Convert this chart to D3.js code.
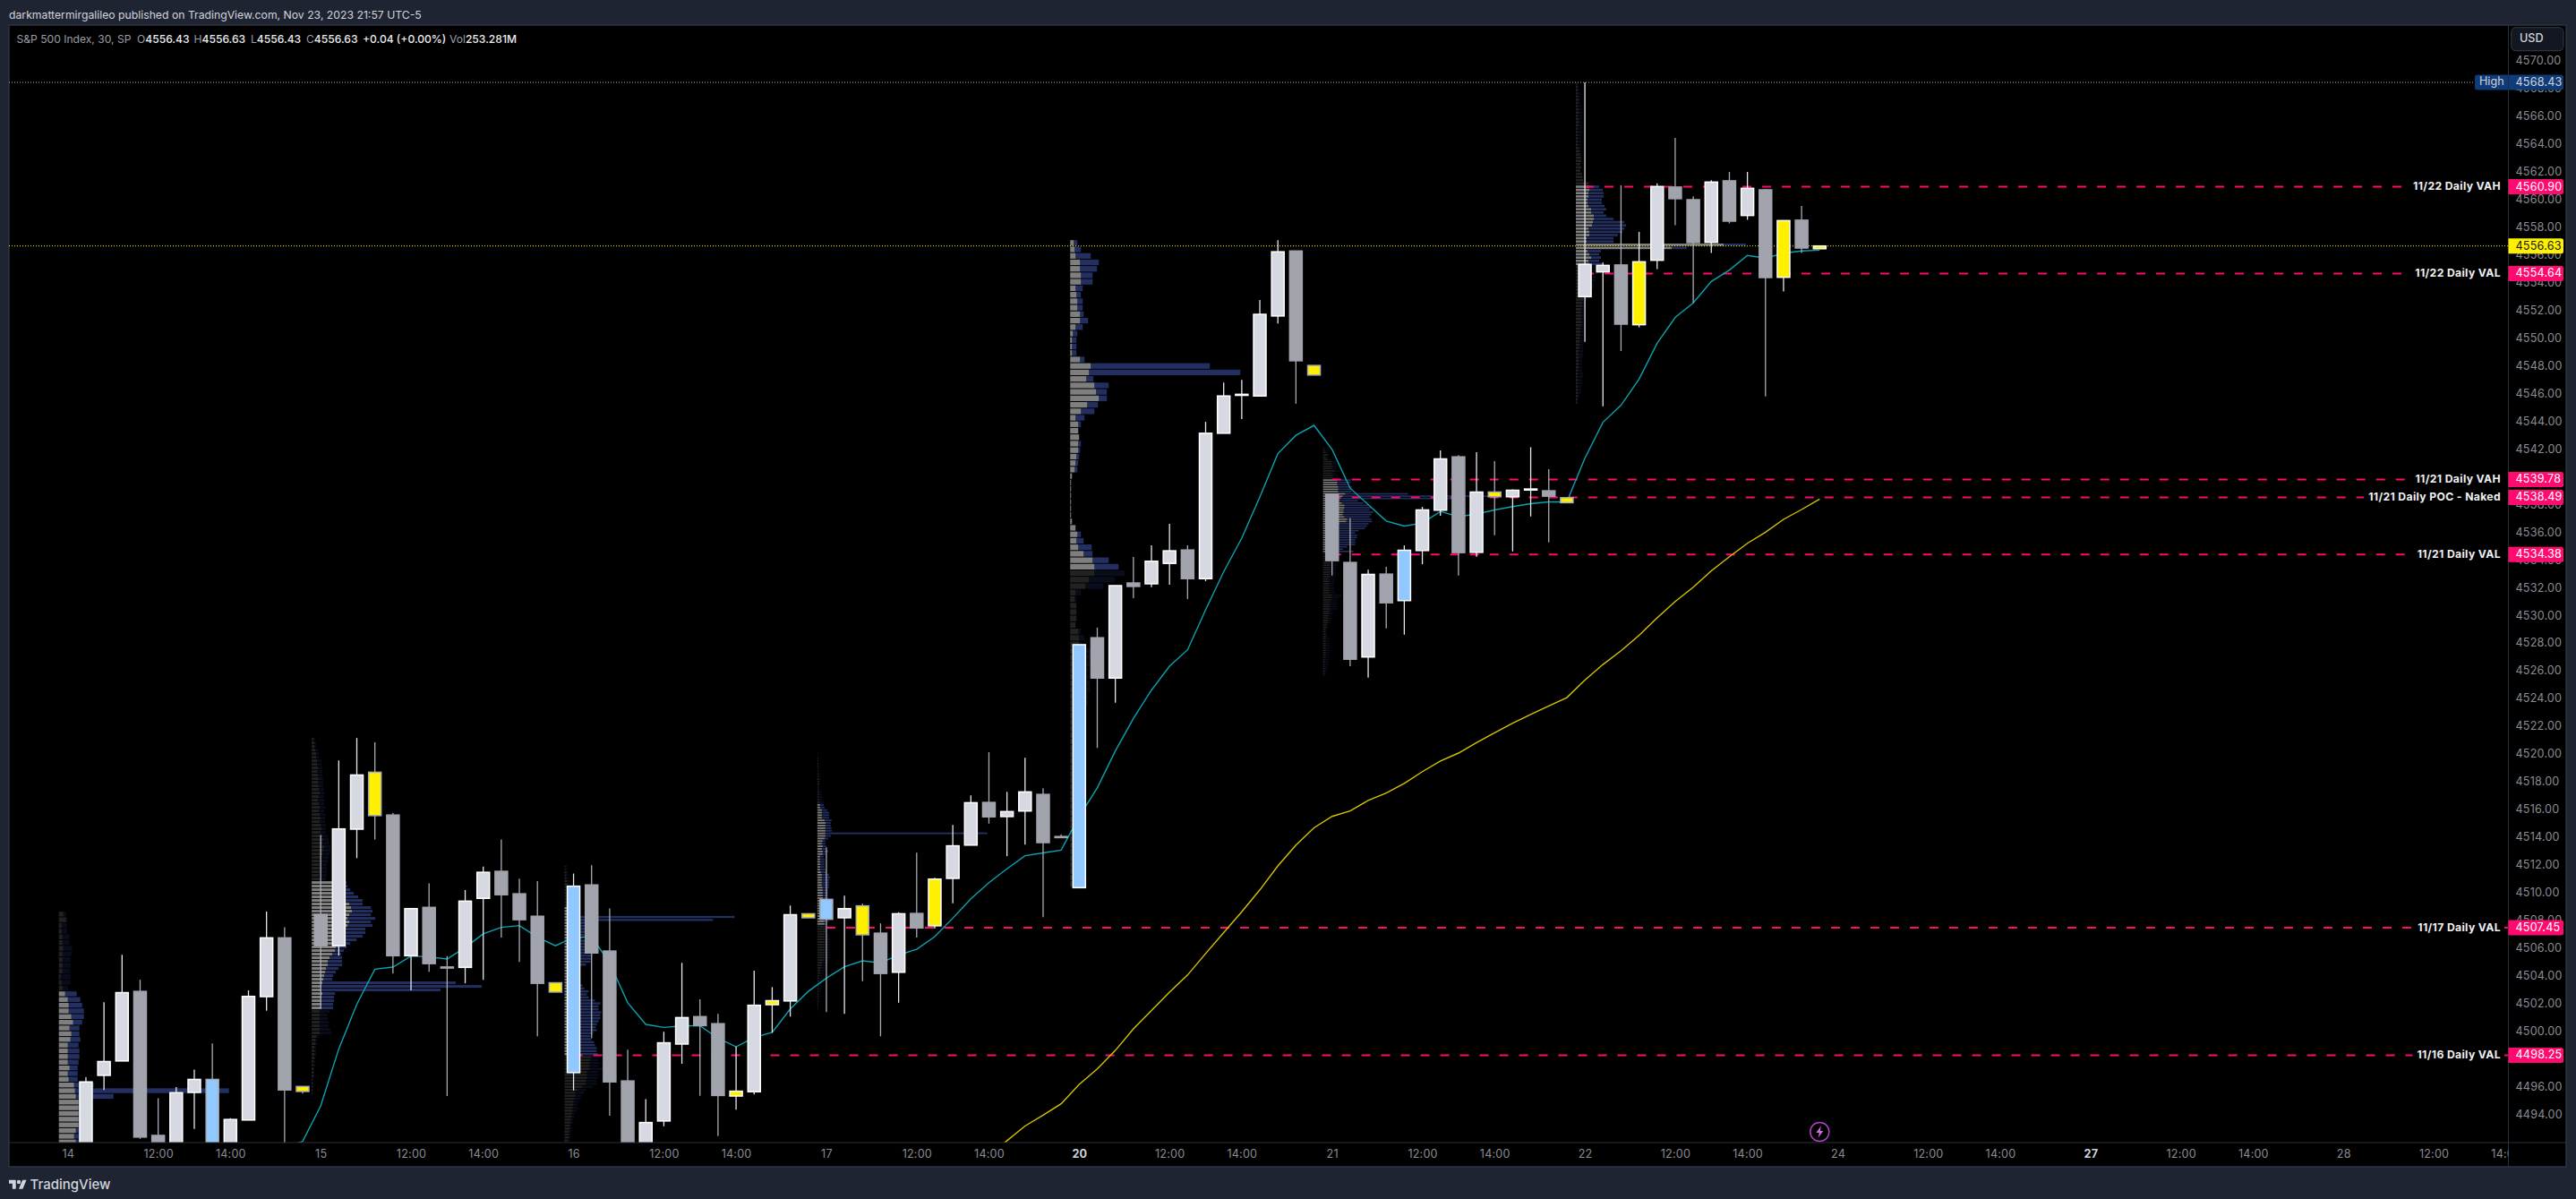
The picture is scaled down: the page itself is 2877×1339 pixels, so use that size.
<!DOCTYPE html>
<html><head><meta charset="utf-8">
<script src="https://cdn.jsdelivr.net/npm/d3@7"></script>
<style>html,body{margin:0;padding:0;background:#1f2433}svg{display:block}text{font-family:Inter,"Noto Sans",sans-serif}</style>
</head><body><svg id="c" width="2877" height="1339"></svg>
<script>
const opens=[4489,4489.4,4496.8,4497.84,4502.86,4492.47,4490,4495.57,4496.51,4490,4493.58,4502.48,4506.72,4496,
4508.41,4506.15,4514.56,4518.67,4515.58,4505.43,4508.92,4504.62,4504.59,4509.57,4511.52,4509.9,4508.28,4503.48,
4497,4510.54,4505.77,4496.4,4490,4493.51,4499.06,4501.04,4500.53,4495.31,4495.62,4501.9,4502.17,4508.46,
4509.5,4508.17,4509.03,4507.06,4504.24,4508.48,4507.59,4511.01,4513.41,4516.49,4515.47,4515.87,4517.07,4514.03,
4510.34,4528.37,4525.46,4532.32,4532.26,4533.73,4534.7,4532.63,4543.12,4545.88,4545.81,4551.58,4556.27,4548.01,
4538.73,4533.8,4526.98,4532.96,4531.05,4534.66,4537.57,4541.42,4534.53,4538.88,4538.54,4539.06,4538.97,4538.47,
4552.97,4554.76,4555.26,4550.95,4555.6,4560.88,4559.97,4556.89,4561.33,4558.83,4560.68,4554.37,4558.49,4556.43];
const highs=[4491,4496.66,4502.08,4505.5,4503.7,4495.15,4495.95,4497.22,4499.11,4493.71,4502.93,4508.61,4507.48,4496,
4514.14,4519.51,4521.14,4520.82,4515.72,4508.83,4510.65,4505.41,4510.17,4511.87,4513.81,4510.99,4510.81,4503.48,
4511.36,4511.96,4508.85,4498.66,4495.09,4499.95,4504.92,4502.28,4501.24,4498.88,4504.35,4503.17,4509.05,4508.46,
4513.25,4509.77,4509.19,4507.77,4508.57,4512.87,4511.05,4514.87,4517,4520.11,4517.25,4519.71,4517.52,4514.18,
4527.87,4529.1,4532.13,4534.2,4535.04,4536.58,4535.04,4543.94,4546.78,4546.97,4552.73,4557.05,4556.27,4548.01,
4538.73,4537.01,4533.28,4533.48,4535.03,4537.81,4541.88,4541.55,4541.75,4541.1,4539.08,4542.11,4540.52,4538.47,
4568.43,4555.43,4561.01,4557.65,4561.14,4564.43,4560.21,4561.37,4561.97,4561.97,4560.75,4558.46,4559.52,4556.63];
const lows=[4486,4489,4495.75,4497.84,4492.22,4489.5,4489.5,4492.93,4489.5,4490,4493.58,4501.46,4491,4495.49,
4501.59,4505.43,4512.47,4513.81,4504.15,4502.93,4504.28,4495.31,4503.44,4503.7,4506.75,4504.99,4499.62,4502.81,
4495.71,4499.48,4493.89,4490.5,4490,4493.13,4497.64,4495.33,4492.42,4494.33,4495.42,4499.88,4501.04,4508.17,
4501.37,4501.24,4503.59,4499.62,4502.04,4506.75,4507.39,4509.21,4513.41,4514.96,4512.61,4513.45,4508.21,4513.95,
4510.34,4520.42,4523.68,4531.22,4532.01,4532.2,4531.16,4532.45,4543.12,4544.15,4545.81,4551.04,4545.25,4547.32,
4532.85,4526.31,4525.49,4529.04,4528.59,4533.67,4537.16,4532.85,4534.21,4535.76,4534.6,4537.12,4535.24,4538.11,
4549.72,4545.07,4549.05,4550.76,4554.96,4558.12,4552.52,4556.12,4558.25,4558.51,4545.78,4553.34,4556.12,4556.43];
const closes=[4490,4496.33,4497.8,4502.77,4492.35,4490,4495.55,4496.51,4490,4493.62,4502.5,4506.72,4495.75,4495.64,
4506.15,4514.58,4518.47,4515.54,4505.43,4508.83,4504.86,4504.55,4509.37,4511.45,4509.83,4508.03,4503.44,4502.81,
4510.45,4505.63,4496.33,4491,4493.4,4499.15,4500.97,4500.39,4495.35,4495.66,4501.86,4502.19,4508.39,4508.17,
4508.06,4508.83,4506.94,4504.15,4508.46,4507.43,4510.96,4513.36,4516.47,4515.45,4515.83,4517.25,4513.59,4514,
4527.87,4525.46,4532.13,4532.07,4533.89,4534.64,4532.63,4543.12,4545.81,4545.93,4551.7,4556.21,4548.35,4547.32,
4533.93,4526.82,4532.94,4530.89,4534.68,4537.59,4541.27,4534.51,4538.88,4538.54,4539.01,4539.1,4538.58,4538.11,
4555.3,4555.23,4550.99,4555.49,4560.92,4560.04,4556.87,4561.24,4558.42,4560.79,4554.35,4558.46,4556.48,4556.63];
const kinds="wwwwggwwbwwwgygwwygwggwwgggybgggwwwggywywybwygwgywwgwwggbgwgwwgwwwwwgyggwgbwwgwywwgywwgywggwgwgygy".split("");

const emaFastStart=12;
const emaFast=[4491.6,4492.04,4494.6,4498.71,4501.93,4504.46,4504.61,4505.41,4505.35,4505.19,4506.03,4507.01,4507.48,4507.61,4506.77,4506.15,4506.75,4506.79,4504.92,4502.04,4500.48,4500.26,4500.37,4500.39,4499.48,4498.86,4499.53,4499.91,4501.59,4502.86,4503.81,4504.64,4505.06,4504.92,4505.48,4505.9,4506.81,4508.14,4509.54,4510.7,4511.7,4512.65,4512.85,4513.05,4515.47,4517.54,4520.2,4522.55,4524.59,4526.31,4527.5,4530.38,4533.13,4535.55,4538.52,4541.65,4542.97,4543.69,4541.96,4539.16,4537.98,4536.79,4536.43,4536.64,4537.48,4537.1,4537.29,4537.59,4537.83,4538.04,4538.17,4538.17,4541.32,4543.91,4545.14,4547.03,4549.61,4551.47,4552.52,4554.07,4554.89,4555.95,4555.75,4556.11,4556.27,4556.33];
const emaSlowStart=51;
const emaSlow=[4491,4492.09,4493.15,4493.93,4494.75,4496.15,4497.26,4498.6,4500.15,4501.48,4502.81,4504.04,4505.59,4507.1,4508.6,4510.18,4511.91,4513.41,4514.66,4515.48,4515.88,4516.63,4517.17,4517.86,4518.71,4519.47,4520.05,4520.8,4521.51,4522.2,4522.84,4523.45,4524.05,4525.32,4526.44,4527.43,4528.55,4529.8,4530.98,4532.02,4533.2,4534.21,4535.18,4535.98,4536.91,4537.62,4538.37];

const levelPrices=[4560.90,4554.64,4539.78,4538.49,4534.38,4507.45,4498.25];
const levelStart=[84,84,70,70,70,42,28];
const levelNames=["11/22 Daily VAH","11/22 Daily VAL","11/21 Daily VAH","11/21 Daily POC - Naked","11/21 Daily VAL","11/17 Daily VAL","11/16 Daily VAL"];

const priceTicks=[4570,4568,4566,4564,4562,4560,4558,4556,4554,4552,4550,4548,4546,4544,4542,4540,4538,4536,4534,4532,4530,4528,4526,4524,4522,4520,4518,4516,4514,4512,4510,4508,4506,4504,4502,4500,4498,4496,4494];
const timeTickIdx=[0,5,9,14,19,23,28,33,37,42,47,51,56,61,65,70,75,79,84,89,93,98,103,107,112,117,121,126,131,135];
const timeTickText=["14","12:00","14:00","15","12:00","14:00","16","12:00","14:00","17","12:00","14:00","20","12:00","14:00","21","12:00","14:00","22","12:00","14:00","24","12:00","14:00","27","12:00","14:00","28","12:00","14:00"];
const timeTickBold=["20","27"];

const vp14Grey=[5,8,3,3,4,4,5,4,4,4,4,2,3,4,7,10,11,11,14,16,12,14,13,10,10,10,10,12,10,11,17,18,19,22,22,22,22,22,19,17,19,20,20];
const vp14All=[8,9,9,9,12,12,15,14,13,13,13,13,13,10,20,24,26,28,28,26,23,23,24,22,23,23,22,21,21,21,39,190,61,23,23,24,23,23,23,23,23,23,23];
const vp15Grey=[2,3,3,4,5,5,6,6,7,6,7,8,7,8,8,9,8,7,8,9,8,9,10,9,10,11,10,12,13,12,14,13,12,10,9,9,9,9,8,9,23,23,24,26,36,38,42,44,45,42,40,42,40,38,37,34,32,28,27,26,23,20,18,18,16,15,14,13,12,11,11,12,11,11,11,11,9,9,9,9,9,9,9,5,4,4,3,3,3,3,2,2,2,2,2,1,1,1,1,1];
const vp15All=[4,5,5,7,8,8,11,11,12,12,12,13,13,13,14,14,14,14,14,15,14,15,15,15,16,16,16,18,19,19,21,21,20,19,18,17,17,17,17,16,39,40,43,47,52,57,57,66,68,66,71,66,68,60,60,57,50,43,39,36,33,34,34,34,30,27,24,23,161,190,144,26,25,25,24,24,20,18,18,19,19,21,22,8,6,6,5,5,5,4,4,4,3,3,3,2,2,2,1,1];
const vp16Grey=[1,1,2,2,2,3,3,3,2,3,3,3,3,3,4,5,5,7,7,6,6,7,7,6,6,10,12,12,13,13,13,13,13,12,7,7,7,7,7,7,7,8,8,8,8,8,9,8,9,9,10,9,9,8,9,8,9,9,9,9,10,10,10,10,30,29,28,28,28,25,25,25,24,24,20,15,12,12,11,10,10,9,9,8,8,7,7,6,6,5,5,5,4,4];
const vp16All=[3,3,4,4,5,6,6,6,5,6,6,6,6,6,10,12,15,190,166,30,28,25,24,22,20,25,30,28,30,32,31,30,29,24,16,15,14,15,16,17,20,22,27,25,27,34,40,38,38,41,40,40,38,36,35,36,32,29,30,33,34,36,36,37,40,38,40,38,43,38,38,37,36,36,32,24,22,19,18,16,14,15,14,11,11,10,9,8,8,8,7,7,6,6];
const vp17Grey=[0,0,1,1,1,1,1,1,1,1,2,2,2,1,1,2,2,2,2,3,3,3,5,5,5,5,8,9,9,9,9,9,9,8,6,5,6,5,6,6,3,3,3,3,3,3,4,5,5,5,5,5,6,6,6,6,6,6,6,6,6,6,7,7,7,8,8,9,9,9,8,8,8,8,8,8,8,8,8,8,7,6,5,4,3,3,2,2,2,2,1,1,1,1,1,1,1,1,1,0];
const vp17All=[1,1,1,1,2,2,2,2,3,3,3,3,3,3,3,4,5,6,6,7,7,8,11,13,13,13,16,15,15,16,16,190,15,12,9,9,10,9,12,9,7,8,8,8,8,9,10,13,14,13,13,13,13,12,12,12,12,12,12,13,13,12,12,12,12,12,11,11,11,11,12,13,14,14,14,14,14,14,14,14,13,12,10,9,8,7,6,6,5,5,5,4,4,3,3,2,2,1,1,1];
const vp20Grey=[4,5,6,11,11,12,12,6,7,8,8,11,11,6,3,2,2,2,11,23,21,18,27,29,32,19,12,6,9,9,10,9,9,7,6,5,2,1,1,1,1,1,1,2,6,8,7,9,15,25,27,27,21,17,6,5,7,7,7,6,9,10,10,8,8,7,6,6,7,7,6,7,6,5,5,4,4,5,5,4,4,3,3,3,3,3,3,4,4,3,3,3,3,3,3,3,3,3,3,3];
const vp20All=[8,12,23,32,30,25,25,14,12,14,14,15,20,14,8,7,7,7,16,156,190,26,43,41,41,31,27,16,12,9,10,12,11,10,9,8,2,1,1,1,1,1,1,2,6,12,15,24,25,43,54,61,50,37,12,7,7,7,7,6,12,16,13,23,23,22,20,20,22,22,20,20,18,18,16,14,14,15,15,14,14,12,12,12,12,12,12,14,14,12,10,10,10,10,10,10,10,8,8,6];
const vp21Grey=[1,2,3,5,3,5,10,10,11,10,13,10,11,11,16,16,16,17,17,17,25,22,19,18,21,24,24,23,23,22,24,27,26,18,17,17,17,17,15,14,14,12,12,12,10,9,9,9,9,9,9,8,8,8,8,8,8,7,7,7,7,7,7,7,10,10,9,8,8,8,8,7,7,6,6,6,6,4,4,3,3,3,3,3,3,3,3,3,3,3,3,2,2,2,2,2,2,2,2,1];
const vp21All=[1,3,5,8,6,9,14,15,16,15,19,15,17,18,31,31,27,32,31,32,95,190,144,39,45,50,54,52,56,54,52,54,55,51,49,47,40,36,38,38,36,36,36,27,22,34,14,15,16,17,17,16,15,15,14,14,14,13,13,12,12,13,13,14,21,19,16,15,15,16,16,11,11,9,9,9,9,6,6,4,4,5,5,7,7,7,7,7,7,7,7,7,7,6,6,5,5,4,4,2];
const vp22Grey=[1,2,2,2,2,3,2,2,3,3,2,3,3,3,2,2,2,2,2,2,3,4,5,6,6,5,6,5,7,7,8,14,15,15,14,14,13,13,14,17,17,20,20,19,18,14,15,15,12,12,165,107,13,15,17,14,15,12,11,10,10,10,9,8,8,7,7,8,7,7,6,6,6,6,6,6,5,5,5,4,4,4,4,3,3,3,3,3,3,2,2,2,2,2,2,2,2,2,2,1];
const vp22All=[3,3,4,5,5,5,5,6,7,7,7,7,7,7,7,7,6,6,6,6,6,6,6,5,5,5,5,5,6,8,8,15,26,30,31,31,29,29,32,34,31,34,42,54,56,54,52,47,42,42,190,124,28,26,28,26,30,27,24,24,22,22,20,20,18,15,14,12,10,9,9,9,9,9,8,8,8,8,8,7,8,8,8,8,8,7,7,7,7,7,8,8,7,7,6,6,5,4,2,2];
const vpDay=[0,14,28,42,56,70,84];
const vpTop=[4508.61,4521.14,4511.96,4520.11,4557.05,4542.12,4568.43];
const vpStep=[0.411,0.2583,0.215,0.1867,0.4671,0.166,0.2325];
const vpValueTop=[14,40,14,20,0,14,32];
const vpValueBottom=[60,75,63,66,50,45,56];
const vpGrey=[vp14Grey,vp15Grey,vp16Grey,vp17Grey,vp20Grey,vp21Grey,vp22Grey];
const vpAll=[vp14All,vp15All,vp16All,vp17All,vp20All,vp21All,vp22All];

const svg=d3.select("#c");
const paneL=10,paneR=2801.5,paneT=28,paneB=1276,outerR=2866,outerB=1303;
const x=d3.scaleLinear().domain([0,100]).range([75.8,2092.8]);
const y=d3.scaleLinear().domain([4570,4494]).range([67.7,1244.3]);
const vol=d3.scaleLinear().domain([0,190]).range([0,190]);
const C={bg:"#1f2433",line:"#2a2e39",tick:"#8a8d95",txt:"#d1d4dc",pink:"#ff0a6e",up:"#d6d9e2",dn:"#a1a4ad",blue:"#90c8ff",yel:"#fff000",cy:"#0aa3b2",gold:"#d6c300",vpG:"#7f7f7f",vpB:"#232f60"};

svg.append("rect").attr("width",2877).attr("height",1339).attr("fill",C.bg);
svg.append("rect").attr("x",paneL).attr("y",paneT).attr("width",outerR-paneL).attr("height",outerB-paneT).attr("fill","#000").attr("stroke","#2e3340").attr("stroke-width",1.5);
const defs=svg.append("defs");
defs.append("clipPath").attr("id","pane").append("rect").attr("x",paneL).attr("y",paneT).attr("width",paneR-paneL).attr("height",paneB-paneT);
defs.append("clipPath").attr("id","timeclip").append("rect").attr("x",paneL).attr("y",paneB).attr("width",paneR-paneL).attr("height",outerB-paneB);

svg.append("text").attr("x",10).attr("y",20.5).attr("font-size",12.22).attr("fill",C.txt).text("darkmattermirgalileo published on TradingView.com, Nov 23, 2023 21:57 UTC-5");

const g=svg.append("g").attr("clip-path","url(#pane)");

// volume profiles
vpDay.forEach((d,p)=>{
  const gp=g.append("g");
  const x0=x(d-0.5), h=Math.max(1.6,y(vpTop[p]-vpStep[p])-y(vpTop[p])-1);
  const rows=vpAll[p].map((t,k)=>({k,t,g:vpGrey[p][k]}));
  const rg=gp.selectAll("g").data(rows).join("g").attr("opacity",r=>(r.k>=vpValueTop[p]&&r.k<=vpValueBottom[p])?1:0.27);
  rg.append("rect").attr("x",r=>x0+vol(r.g)).attr("y",r=>y(vpTop[p]-r.k*vpStep[p])).attr("width",r=>Math.max(0,vol(r.t-r.g))).attr("height",h).attr("fill",C.vpB);
  rg.append("rect").attr("x",x0).attr("y",r=>y(vpTop[p]-r.k*vpStep[p])).attr("width",r=>vol(r.g)).attr("height",h).attr("fill",C.vpG);
});

// high and last-price lines
g.append("line").attr("x1",paneL).attr("x2",2764).attr("y1",y(4568.43)).attr("y2",y(4568.43)).attr("stroke","#b8bbc2").attr("stroke-width",1).attr("stroke-dasharray","1 2");
g.append("line").attr("x1",paneL).attr("x2",paneR).attr("y1",y(4556.63)).attr("y2",y(4556.63)).attr("stroke",C.yel).attr("stroke-width",1).attr("stroke-dasharray","1 2");

// level lines
g.selectAll("line.lvl").data(levelPrices).join("line").attr("class","lvl")
 .attr("x1",(d,i)=>x(levelStart[i])).attr("x2",paneR).attr("y1",d=>y(d)).attr("y2",d=>y(d))
 .attr("stroke",C.pink).attr("stroke-width",2).attr("stroke-dasharray","10 12");

// averages
const lineFast=d3.line().x((d,k)=>x(k+emaFastStart)).y(d=>y(d));
const lineSlow=d3.line().x((d,k)=>x(k+emaSlowStart)).y(d=>y(d));
g.append("path").attr("d",lineFast(emaFast)).attr("fill","none").attr("stroke",C.cy).attr("stroke-width",1.4);
g.append("path").attr("d",lineSlow(emaSlow)).attr("fill","none").attr("stroke",C.gold).attr("stroke-width",1.4);

// candles
const fill={w:C.up,g:C.dn,b:C.blue,y:C.yel};
const bars=opens.map((o,i)=>({i,o,h:highs[i],l:lows[i],c:closes[i],k:kinds[i]}));
const cg=g.selectAll("g.bar").data(bars).join("g").attr("class","bar");
const edge=d=>d.c>=d.o?"#ffffff":(d.k==="g"?C.dn:"#a8abb3");
cg.append("line").attr("x1",d=>x(d.i)).attr("x2",d=>x(d.i)).attr("y1",d=>y(d.h)).attr("y2",d=>y(d.l)).attr("stroke",d=>d.c>=d.o?"#e6e8ee":"#a8abb3").attr("stroke-width",1.3);
const dojiH=1.2;
cg.append("rect").attr("x",d=>x(d.i)-7).attr("width",14)
 .attr("y",d=>y(Math.max(d.o,d.c)))
 .attr("height",d=>Math.max(dojiH,Math.abs(y(d.o)-y(d.c))))
 .attr("fill",d=>fill[d.k]).attr("stroke",edge).attr("stroke-width",1.5);

// level labels
const lab=svg.append("g");
levelPrices.forEach((p,i)=>{
  const t=lab.append("text").attr("x",2793).attr("y",y(p)+0.5).attr("text-anchor","end").attr("dominant-baseline","middle").attr("font-size",12.2).attr("font-weight",700).attr("letter-spacing",0.35).attr("fill","#f0f1f4").text(levelNames[i]);
  const b=t.node().getBBox();
  lab.insert("rect","text").attr("x",b.x-5).attr("y",y(p)-3).attr("width",b.width+9).attr("height",6).attr("fill","#000");
});

// axes
const yAxis=d3.axisRight(y).tickValues(priceTicks).tickFormat(d=>d.toFixed(2)).tickSize(0).tickPadding(8);
const ya=svg.append("g").attr("transform",`translate(${paneR},0)`).call(yAxis);
ya.select(".domain").remove();
ya.selectAll("text").attr("fill",C.tick).attr("font-size",12.6).attr("font-family","Inter").attr("letter-spacing",0.2);
svg.append("line").attr("x1",paneR).attr("x2",paneR).attr("y1",paneT).attr("y2",outerB).attr("stroke",C.line).attr("stroke-width",1);
svg.append("line").attr("x1",paneL).attr("x2",outerR).attr("y1",paneB).attr("y2",paneB).attr("stroke",C.line).attr("stroke-width",1);

const xAxis=d3.axisBottom(x).tickValues(timeTickIdx).tickFormat((d,i)=>timeTickText[i]).tickSize(0).tickPadding(8);
const xa=svg.append("g").attr("clip-path","url(#timeclip)").append("g").attr("transform",`translate(0,${paneB})`).call(xAxis);
xa.select(".domain").remove();
xa.selectAll("text").attr("font-family","Inter").attr("font-size",12.6).attr("letter-spacing",0.2)
  .attr("fill",(d,i)=>timeTickBold.includes(timeTickText[i])?C.txt:C.tick)
  .attr("font-weight",(d,i)=>timeTickBold.includes(timeTickText[i])?700:400);

// price pills
function pill(x0,x1,cy,fillc){
  const r=2.5,t=cy-8.5,b=cy+8.5;
  return svg.append("path").attr("d",`M${x0},${t}H${x1-r}Q${x1},${t} ${x1},${t+r}V${b-r}Q${x1},${b} ${x1-r},${b}H${x0}Z`).attr("fill",fillc);
}
function pillText(p,col){
  svg.append("text").attr("x",2809.5).attr("y",y(p)+0.5).attr("dominant-baseline","middle").attr("font-size",12.6).attr("letter-spacing",0.2).attr("fill",col).text(p.toFixed(2));
}
levelPrices.forEach(p=>{pill(2801.5,2863,y(p),C.pink);pillText(p,"#ffffff");});
pill(2801.5,2863,y(4556.63),C.yel);pillText(4556.63,"#131722");
svg.append("path").attr("d",`M2767,${y(4568.43)-8.5}H2860.5Q2863,${y(4568.43)-8.5} 2863,${y(4568.43)-6}V${y(4568.43)+6}Q2863,${y(4568.43)+8.5} 2860.5,${y(4568.43)+8.5}H2767Q2764,${y(4568.43)+8.5} 2764,${y(4568.43)+5.5}V${y(4568.43)-5.5}Q2764,${y(4568.43)-8.5} 2767,${y(4568.43)-8.5}Z`).attr("fill","#0f3b78");
svg.append("line").attr("x1",paneR).attr("x2",paneR).attr("y1",y(4568.43)-8.5).attr("y2",y(4568.43)+8.5).attr("stroke","#1c2a46");
svg.append("text").attr("x",2769).attr("y",y(4568.43)).attr("dominant-baseline","middle").attr("font-size",12.6).attr("fill",C.txt).text("High");
pillText(4568.43,C.txt);

// currency button
svg.append("rect").attr("x",2804.7).attr("y",30.7).attr("width",58.3).attr("height",26).attr("rx",5).attr("fill","#131722").attr("stroke","#363a45");
svg.append("text").attr("x",2814).attr("y",44).attr("dominant-baseline","middle").attr("font-size",12.6).attr("font-weight",500).attr("fill",C.txt).text("USD");

// legend
const legendText=[["S&P 500 Index, 30, SP","",18.5],["O","4556.43",153],["H","4556.63",216.5],["L","4556.43",280],["C","4556.63",342],["","+0.04 (+0.00%)",405],["Vol","253.281M",502]];
legendText.forEach(r=>{
  const t=svg.append("text").attr("x",r[2]).attr("y",47.5).attr("font-size",12.1);
  t.append("tspan").attr("fill","#9b9ea6").text(r[0]);
  t.append("tspan").attr("fill","#eceef2").attr("font-weight",500).text(r[1]);
});

// replay / lightning icon
const ic=svg.append("g").attr("transform",`translate(${x(97)},1264)`);
ic.append("circle").attr("r",10.5).attr("fill","#000").attr("stroke","#b042c4").attr("stroke-width",1.5);
ic.append("path").attr("d","M1.5,-6.5 L-4,1 H-0.5 L-1.5,6.5 L4,-1 H0.5 Z").attr("fill","#d46be6");

// brand
const logo=svg.append("g").attr("transform","translate(10,1315.6) scale(0.55)").attr("fill",C.txt);
logo.append("path").attr("d","M14 22H7V11H0V4h14v18zM28 22h-8l7.5-18h8L28 22z");
logo.append("circle").attr("cx",20).attr("cy",8).attr("r",4);
svg.append("text").attr("x",33.5).attr("y",1327.5).attr("font-size",15).attr("font-weight",500).attr("fill",C.txt).text("TradingView");
</script></body></html>
